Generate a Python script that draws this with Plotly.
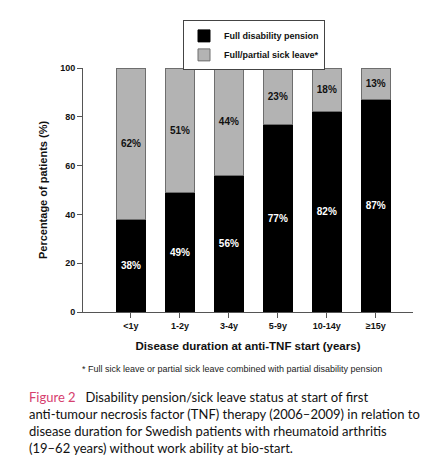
import plotly.graph_objects as go

categories = ["<1y", "1-2y", "3-4y", "5-9y", "10-14y", "\u226515y"]
full_disability = [38, 49, 56, 77, 82, 87]
sick_leave = [62, 51, 44, 23, 18, 13]
y_ticks = [0, 20, 40, 60, 80, 100]

FONT = "Liberation Sans, Arial, sans-serif"
OFF = 8  # browser default body margin
W, H = 444, 466
PL, PR, PT, PB = 83 - OFF, 413 - OFF, 66 - OFF, 312 - OFF  # plot area in figure px
PW, PH = PR - PL, PB - PT

def px_x(x):
    return (x - OFF - PL) / PW

def px_y(y):
    return (PB - (y - OFF)) / PH

fig = go.Figure()
fig.add_trace(go.Bar(
    x=categories, y=full_disability, name="<b>Full disability pension</b>",
    marker=dict(color="#000000", line=dict(color="#000000", width=1)),
    text=[f"<b>{v}%</b>" for v in full_disability], textposition="inside",
    insidetextanchor="middle", textangle=0,
    textfont=dict(color="white", size=10, family=FONT), width=0.6,
))
fig.add_trace(go.Bar(
    x=categories, y=sick_leave, name="<b>Full/partial sick leave*</b>",
    marker=dict(color="#b3b3b3", line=dict(color="#6e6e6e", width=1)),
    text=[f"<b>{v}%</b>" for v in sick_leave], textposition="inside",
    insidetextanchor="middle", textangle=0,
    textfont=dict(color="#111111", size=10, family=FONT), width=0.6,
))

fig.update_layout(
    barmode="stack",
    width=W, height=H,
    margin=dict(l=PL, r=W - PR, t=PT, b=H - PB),
    paper_bgcolor="white", plot_bgcolor="white",
    font=dict(family=FONT, color="#111111"),
    uniformtext=dict(minsize=6, mode="show"),
    legend=dict(
        x=px_x(254), y=px_y(18), xanchor="center", yanchor="top",
        orientation="v", bordercolor="#444444", borderwidth=1,
        font=dict(size=9, family=FONT, color="#111111"),
        traceorder="normal", tracegroupgap=0,
    ),
    xaxis=dict(
        type="category", range=[-0.98, 5.76],
        showline=True, linecolor="#555555", linewidth=1,
        ticks="outside", ticklen=5, tickcolor="#555555",
        tickvals=categories, ticktext=[f"<b>{c}</b>" for c in categories],
        tickfont=dict(size=9, family=FONT, color="#111111"),
        title=dict(text="<b>Disease duration at anti-TNF start (years)</b>",
                   font=dict(size=11.5, family=FONT, color="#111111"), standoff=12),
        showgrid=False, zeroline=False,
    ),
    yaxis=dict(
        range=[0, 100],
        showline=True, linecolor="#555555", linewidth=1,
        ticks="outside", ticklen=5, tickcolor="#555555",
        tickvals=y_ticks, ticktext=[f"<b>{t}</b>" for t in y_ticks],
        tickfont=dict(size=9, family=FONT, color="#111111"),
        title=dict(text="<b>Percentage of patients (%)</b>",
                   font=dict(size=11, family=FONT, color="#111111"), standoff=10),
        showgrid=False, zeroline=False,
    ),
)

fig.add_annotation(
    text="* Full sick leave or partial sick leave combined with partial disability pension",
    xref="paper", yref="paper", x=px_x(232), y=px_y(369), xanchor="center", yanchor="middle",
    showarrow=False, font=dict(size=9, family=FONT, color="#222222"),
)
fig.add_annotation(
    text=("<span style='color:#d6406e'>Figure 2</span>\u2002 Disability pension/sick leave status at start of first<br>"
          "anti-tumour necrosis factor (TNF) therapy (2006\u20132009) in relation to<br>"
          "disease duration for Swedish patients with rheumatoid arthritis<br>"
          "(19\u201362 years) without work ability at bio-start."),
    xref="paper", yref="paper", x=px_x(27), y=px_y(388),
    xanchor="left", yanchor="top", align="left", showarrow=False,
    font=dict(size=13, family="Lato, Open Sans, sans-serif", color="#111111"),
)

fig.write_html("out.html")
